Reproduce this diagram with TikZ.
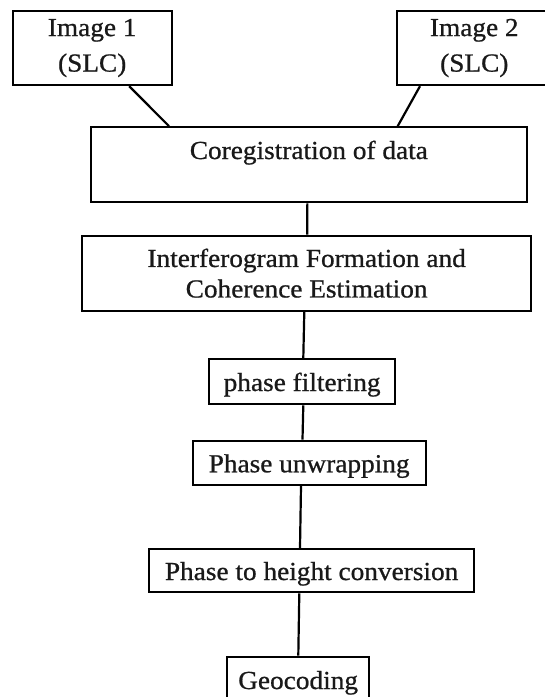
\documentclass[tikz,border=0pt]{standalone}
\usepackage{fontspec}
\setmainfont{Liberation Serif}[FakeStretch=1.05,FakeBold=0.8]
\begin{document}
\begin{tikzpicture}[x=1pt,y=-1pt,
  every node/.style={font=\fontsize{26}{30.5}\selectfont, text=black!90},
  box/.style={draw=black, line width=2.3pt, rectangle, inner sep=0pt},
  link/.style={draw=black, line width=2.2pt}]
\useasboundingbox (0,0) rectangle (545,697);
\clip (0,0) rectangle (545,697);
\node[box, minimum width=159pt, minimum height=74pt, align=center] (img1) at (92.2,48) {Image 1\\[5pt](SLC)};
\node[box, minimum width=155.3pt, minimum height=74pt, align=center] (img2) at (474.3,48) {Image 2\\[5pt](SLC)};
\node[box, minimum width=435.7pt, text height=31.7pt, text depth=43.3pt] (coreg) at (308.85,164.8) {Coregistration of data};
\node[box, minimum width=448.7pt, minimum height=75pt, align=center] (interf) at (306.65,273.2) {Interferogram Formation and\\Coherence Estimation};
\node[box, minimum width=185.7pt, text height=32pt, text depth=13.3pt] (pf) at (302.15,381.65) {phase filtering};
\node[box, minimum width=233pt, text height=31.6pt, text depth=12.7pt] (pu) at (309.2,462.85) {Phase unwrapping};
\node[box, minimum width=324.7pt, text height=31pt, text depth=12.3pt] (pth) at (311.65,570.65) {Phase to height conversion};
\node[box, minimum width=141.7pt, text height=32.3pt, text depth=12.3pt] (geo) at (298.15,679) {Geocoding};
\draw[link] ([xshift=37pt]img1.south) -- ([xshift=-139.85pt]coreg.north);
\draw[link] ([xshift=-54.3pt]img2.south) -- ([xshift=88.85pt]coreg.north);
\draw[link] ([xshift=-1.5pt]coreg.south) -- ([xshift=0.65pt]interf.north);
\draw[link] ([xshift=-2.35pt]interf.south) -- ([xshift=1.15pt]pf.north);
\draw[link] ([xshift=1.15pt]pf.south) -- ([xshift=-6.7pt]pu.north);
\draw[link] ([xshift=-8.2pt]pu.south) -- ([xshift=-11.65pt]pth.north);
\draw[link] ([xshift=-12.35pt]pth.south) -- ([xshift=0.15pt]geo.north);
\end{tikzpicture}
\end{document}
